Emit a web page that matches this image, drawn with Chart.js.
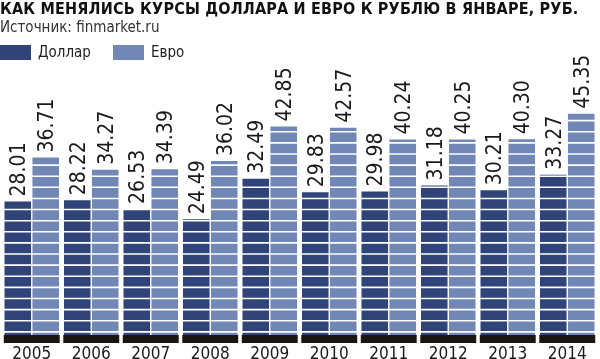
<!DOCTYPE html>
<html lang="ru">
<head>
<meta charset="utf-8">
<title>Курсы доллара и евро</title>
<script src="https://cdn.jsdelivr.net/npm/chart.js@4.4.1/dist/chart.umd.min.js"></script>
<style>
    html, body { margin: 0; padding: 0; background: #fff; }
    #wrap { position: relative; width: 600px; height: 359px; overflow: hidden; }
    #chart { position: absolute; left: 0; top: 0; }
    .title {
        position: absolute; left: 0; top: -1px;
        font: bold 16px "DejaVu Sans Condensed", "DejaVu Sans", sans-serif;
        letter-spacing: 0.2px;
        color: #111; white-space: nowrap;
    }
    .source {
        position: absolute; left: 0; top: 18px;
        font: 15px "DejaVu Sans Condensed", "DejaVu Sans", sans-serif;
        color: #333; white-space: nowrap;
    }
    .legend {
        position: absolute; left: 0; top: 43px; display: flex; align-items: center;
        font: 15px "DejaVu Sans Condensed", "DejaVu Sans", sans-serif; color: #222;
    }
    .legend .item { display: flex; align-items: center; margin-right: 22px; }
    .legend .box { width: 31px; height: 15px; margin-right: 7px; }
</style>
</head>
<body>
<div id="wrap">
    <canvas id="chart" width="600" height="359"></canvas>
    <div class="title">КАК МЕНЯЛИСЬ КУРСЫ ДОЛЛАРА И ЕВРО К РУБЛЮ В ЯНВАРЕ, РУБ.</div>
    <div class="source">Источник: finmarket.ru</div>
    <div class="legend" id="legend"></div>
</div>
<script>
// Данные
const years = ['2005', '2006', '2007', '2008', '2009', '2010', '2011', '2012', '2013', '2014'];
const seriesNames = ['Доллар', 'Евро'];
const dollar = [28.01, 28.22, 26.53, 24.49, 32.49, 29.83, 29.98, 31.18, 30.21, 33.27];
const euro = [36.71, 34.27, 34.39, 36.02, 42.85, 42.57, 40.24, 40.25, 40.30, 45.35];

const colors = ['#30447a', '#7187b5'];
const bandColor = '#1b1511';
const textColor = '#1a1a1a';

// Легенда
const legendEl = document.getElementById('legend');
seriesNames.forEach((name, i) => {
    const item = document.createElement('div');
    item.className = 'item';
    const box = document.createElement('span');
    box.className = 'box';
    box.style.background = colors[i];
    const label = document.createElement('span');
    label.textContent = name;
    item.appendChild(box);
    item.appendChild(label);
    legendEl.appendChild(item);
});

// Белые полоски поверх столбцов
const stripes = {
    id: 'stripes',
    afterDatasetsDraw(chart) {
        const y = chart.scales.y;
        const area = chart.chartArea;
        const ctx = chart.ctx;
        ctx.save();
        ctx.strokeStyle = '#ffffff';
        ctx.lineWidth = 1.6;
        y.ticks.forEach(t => {
            if (t.value === 0) return;
            const py = y.getPixelForValue(t.value);
            ctx.beginPath();
            ctx.moveTo(area.left, py);
            ctx.lineTo(area.right, py);
            ctx.stroke();
        });
        ctx.restore();
    }
};

// Подписи значений над столбцами (повернуты вертикально)
const valueLabels = {
    id: 'valueLabels',
    afterDraw(chart) {
        const ctx = chart.ctx;
        ctx.save();
        ctx.font = '21px "DejaVu Sans Condensed", "DejaVu Sans", sans-serif';
        ctx.fillStyle = textColor;
        ctx.textAlign = 'left';
        ctx.textBaseline = 'alphabetic';
        chart.data.datasets.forEach((ds, di) => {
            if (ds.isBand) return;
            const meta = chart.getDatasetMeta(di);
            meta.data.forEach((bar, i) => {
                ctx.save();
                ctx.translate(bar.x, bar.y);
                ctx.rotate(-Math.PI / 2);
                ctx.fillText(ds.data[i].toFixed(2), 5, 7.5);
                ctx.restore();
            });
        });
        ctx.restore();
    }
};

new Chart(document.getElementById('chart'), {
    type: 'bar',
    data: {
        labels: years,
        datasets: [
            {
                // черная полоса под каждой парой столбцов
                label: 'base',
                isBand: true,
                data: years.map(() => [0, 1.6]),
                backgroundColor: bandColor,
                grouped: false,
                barPercentage: 1,
                categoryPercentage: 0.94
            },
            {
                label: seriesNames[0],
                data: dollar,
                backgroundColor: colors[0],
                barPercentage: 0.95,
                categoryPercentage: 0.94
            },
            {
                label: seriesNames[1],
                data: euro,
                backgroundColor: colors[1],
                barPercentage: 0.95,
                categoryPercentage: 0.94
            }
        ]
    },
    options: {
        responsive: false,
        animation: false,
        layout: {
            padding: { left: 2, right: 3, top: 65, bottom: -7 }
        },
        plugins: {
            legend: { display: false },
            title: { display: false },
            tooltip: { enabled: false }
        },
        scales: {
            x: {
                grid: { display: false, drawTicks: false },
                border: { display: false },
                ticks: {
                    color: textColor,
                    padding: 3,
                    font: { family: '"DejaVu Sans Condensed", "DejaVu Sans", sans-serif', size: 17, lineHeight: 1 }
                }
            },
            y: {
                min: 0,
                max: 55,
                border: { display: false },
                grid: { display: false, drawTicks: false },
                ticks: { display: false, stepSize: 2.2, maxTicksLimit: 100 }
            }
        }
    },
    plugins: [stripes, valueLabels]
});
</script>
</body>
</html>
